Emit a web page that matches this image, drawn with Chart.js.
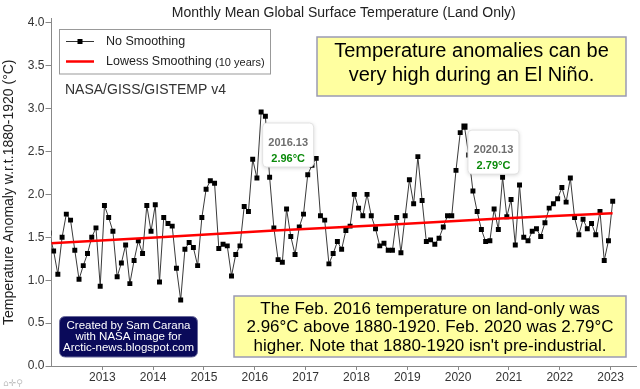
<!DOCTYPE html>
<html><head><meta charset="utf-8">
<script src="https://cdn.jsdelivr.net/npm/chart.js@4.4.1/dist/chart.umd.min.js"></script>
<style>html,body{margin:0;padding:0;background:#fff;}canvas{display:block;}</style>
</head><body>
<canvas id="c" width="640" height="389"></canvas>
<script>
// ---------- data ----------
const chartTitle = 'Monthly Mean Global Surface Temperature (Land Only)';
const yAxisTitle = 'Temperature Anomaly w.r.t.1880-1920 (°C)';
const firstYear = 2011, firstMonth = 12; // first monthly value: Dec 2011
const anomalies = [
  1.55,
  1.34,1.07,1.50,1.77,1.70,1.35,1.01,1.17,1.31,1.50,1.61,0.93,
  1.87,1.73,1.57,1.04,1.20,1.41,0.96,1.23,1.46,1.31,1.87,1.57,
  1.88,0.98,1.73,1.66,1.63,1.14,0.77,1.36,1.44,1.38,1.17,1.73,
  2.06,2.16,2.13,1.37,1.42,1.40,1.05,1.30,1.40,1.86,1.80,2.41,
  2.19,2.96,2.91,2.20,1.61,1.24,1.21,1.83,1.51,1.30,1.62,1.77,
  2.23,2.34,2.42,1.75,1.70,1.19,1.31,1.45,1.36,1.58,1.63,2.00,
  1.84,1.75,2.00,1.75,1.60,1.40,1.43,1.35,1.35,1.73,1.32,1.75,
  2.17,1.89,2.44,1.93,1.45,1.47,1.42,1.49,1.62,1.75,1.75,2.28,
  2.72,2.79,2.46,2.04,1.80,1.59,1.45,1.46,1.83,1.59,2.20,1.74,
  1.94,1.41,2.11,1.50,1.46,1.57,1.60,1.51,1.67,1.84,1.89,1.95,
  2.08,1.91,2.19,1.73,1.53,1.71,1.60,1.66,1.53,1.80,1.23,1.46,
  1.92
];
const lowessYears  = [2011.96, 2014.13, 2016.30, 2018.63, 2020.83, 2023.04];
const lowessValues = [1.43, 1.50, 1.575, 1.645, 1.72, 1.78];
const yearTicks = [2013,2014,2015,2016,2017,2018,2019,2020,2021,2022,2023];
const yTicks = [0,0.5,1,1.5,2,2.5,3,3.5,4];
const highlightIdx = [50, 98];
const legendLabels = ['No Smoothing', 'Lowess Smoothing'];
const legendNote = '(10 years)';
const sourceLabel = 'NASA/GISS/GISTEMP v4';
const noteTop = ['Temperature anomalies can be', 'very high during an El Niño.'];
const noteBottom = ['The Feb. 2016 temperature on land-only was',
                    '2.96°C above 1880-1920. Feb. 2020 was 2.79°C',
                    "higher. Note that 1880-1920 isn't pre-industrial."];
const credit = ['Created by Sam Carana', 'with NASA image for', 'Arctic-news.blogspot.com'];

// ---------- helpers ----------
function monthTime(i){
  const m = (firstMonth - 1) + i;
  const y = firstYear + Math.floor(m / 12);
  const mo = m % 12 + 1;
  return y + (mo - 0.5) / 12;
}
const series = anomalies.map((v,i)=>({x: monthTime(i), y: v}));
const lowess = lowessYears.map((t,i)=>({x: t, y: lowessValues[i]}));

const FF = "'Liberation Sans', Arial, sans-serif";
const tipOffsets = [{dx:1.5, dy:11}, {dx:3.5, dy:3.5}];

function rr(ctx,x,y,w,h,r){
  ctx.beginPath();
  ctx.moveTo(x+r,y);ctx.lineTo(x+w-r,y);ctx.quadraticCurveTo(x+w,y,x+w,y+r);
  ctx.lineTo(x+w,y+h-r);ctx.quadraticCurveTo(x+w,y+h,x+w-r,y+h);
  ctx.lineTo(x+r,y+h);ctx.quadraticCurveTo(x,y+h,x,y+h-r);
  ctx.lineTo(x,y+r);ctx.quadraticCurveTo(x,y,x+r,y);ctx.closePath();
}

const overlay = {
  id:'overlay',
  afterDraw(chart){
    const ctx = chart.ctx, ca = chart.chartArea;
    ctx.save();
    // title
    ctx.fillStyle = '#222'; ctx.font = '14px '+FF; ctx.textAlign='center'; ctx.textBaseline='middle';
    ctx.fillText(chartTitle, (ca.left+ca.right)/2, 13.5);

    // legend
    ctx.fillStyle='#fff'; ctx.strokeStyle='#999'; ctx.lineWidth=1;
    ctx.fillRect(59.5,29.5,211,44.5); ctx.strokeRect(59.5,29.5,211,44.5);
    ctx.strokeStyle='#333'; ctx.lineWidth=1;
    ctx.beginPath(); ctx.moveTo(66,41.5); ctx.lineTo(94,41.5); ctx.stroke();
    ctx.fillStyle='#000'; ctx.fillRect(77.5,39,5,5);
    ctx.strokeStyle='#ff0000'; ctx.lineWidth=2.5;
    ctx.beginPath(); ctx.moveTo(66,61.5); ctx.lineTo(94,61.5); ctx.stroke();
    ctx.fillStyle='#222'; ctx.textAlign='left'; ctx.font='12.5px '+FF;
    ctx.fillText(chart.data.datasets[1].label, 106, 42);
    ctx.fillText(chart.data.datasets[0].label, 106, 62);
    const w = ctx.measureText(chart.data.datasets[0].label+' ').width;
    ctx.font='11px '+FF; ctx.fillText(legendNote, 106+w, 62.5);

    // source label
    ctx.font='14px '+FF; ctx.fillStyle='#333';
    ctx.fillText(sourceLabel, 65, 90);

    // yellow boxes
    ctx.fillStyle='#ffffa0'; ctx.strokeStyle='#9a9ab4'; ctx.lineWidth=1.5;
    ctx.fillRect(317,37,309,59); ctx.strokeRect(317,37,309,59);
    ctx.fillRect(234,296,392,61); ctx.strokeRect(234,296,392,61);
    ctx.fillStyle='#000'; ctx.textAlign='center';
    ctx.font='20px '+FF;
    noteTop.forEach((s,i)=>ctx.fillText(s, 471.5, 51+i*24));
    ctx.font='17px '+FF;
    noteBottom.forEach((s,i)=>ctx.fillText(s, 430, 309.5+i*18.3));

    // credit box
    ctx.fillStyle='#0a0a5a'; ctx.strokeStyle='#6a6a9a'; ctx.lineWidth=1;
    rr(ctx,59.5,316.5,138,40.5,6); ctx.fill(); ctx.stroke();
    ctx.fillStyle='#fff'; ctx.font='11.5px '+FF;
    credit.forEach((s,i)=>ctx.fillText(s, 128.5, 326+i*10.8));

    // toolbar icons
    ctx.fillStyle='#c0c0c0'; ctx.font='9px DejaVu Sans'; ctx.textAlign='left';
    ctx.fillText('⌂✛⚲', 3, 384);

    // hover tooltips
    const meta = chart.getDatasetMeta(1);
    highlightIdx.forEach((idx,k)=>{
      const el = meta.data[idx];
      const bx = el.x + tipOffsets[k].dx, by = el.y + tipOffsets[k].dy;
      ctx.save();
      ctx.shadowColor='rgba(0,0,0,0.18)'; ctx.shadowBlur=4; ctx.shadowOffsetY=1;
      ctx.fillStyle='#fff'; rr(ctx,bx,by,51,44,4); ctx.fill();
      ctx.restore();
      ctx.strokeStyle='#e2e2e2'; ctx.lineWidth=1; rr(ctx,bx,by,51,44,4); ctx.stroke();
      ctx.textAlign='center'; ctx.textBaseline='middle';
      ctx.font='bold 11px '+FF; ctx.fillStyle='#6e6e6e';
      ctx.fillText(monthTime(idx).toFixed(2), bx+25.5, by+20);
      ctx.fillStyle='#0a8a0a';
      ctx.fillText(anomalies[idx].toFixed(2)+'°C', bx+25.5, by+36);
    });
    ctx.restore();
  }
};

new Chart(document.getElementById('c').getContext('2d'), {
  type:'line',
  data:{datasets:[
    {label: legendLabels[1], data: lowess, borderColor:'#ff0000', borderWidth:2.5,
     pointRadius:0, tension:0, clip:{left:0,right:5,top:5,bottom:5}},
    {label: legendLabels[0], data: series, borderColor:'#3a3a3a', borderWidth:1,
     pointStyle:'rect', pointRadius:(c)=>highlightIdx.includes(c.dataIndex)&&c.dataIndex===98?4.3:3.5,
     pointBackgroundColor:'#000', pointBorderColor:'#000', pointBorderWidth:0, tension:0,
     clip:{left:0,right:5,top:5,bottom:5}}
  ]},
  options:{
    responsive:false, animation:false, devicePixelRatio:1,
    layout:{padding:{left:0,right:4,top:18.5,bottom:0}},
    plugins:{legend:{display:false}, tooltip:{enabled:false}, title:{display:false}},
    scales:{
      x:{type:'linear', min:2012, max:2023.5,
        afterBuildTicks:(s)=>{s.ticks = yearTicks.map(v=>({value:v}));},
        afterFit:(s)=>{s.height=23; s.paddingLeft=0; s.paddingRight=0;},
        grid:{drawOnChartArea:false, drawTicks:true, tickLength:4, color:'#888', tickColor:'#888'},
        border:{color:'#888', width:1},
        ticks:{font:{family:FF,size:12}, color:'#333', padding:0, maxRotation:0, autoSkip:false,
               callback:(v)=>String(v)}
      },
      y:{min:0, max:4.05,
        afterBuildTicks:(s)=>{s.ticks = yTicks.map(v=>({value:v}));},
        afterFit:(s)=>{s.width=51.5; s.paddingTop=0; s.paddingBottom=0;},
        grid:{drawOnChartArea:false, drawTicks:true, tickLength:6, color:'#888', tickColor:'#888'},
        border:{color:'#888', width:1},
        ticks:{font:{family:FF,size:12}, color:'#333', padding:1, callback:(v)=>Number(v).toFixed(1)},
        title:{display:true, text:yAxisTitle, font:{family:FF,size:14}, color:'#222', padding:{top:1,bottom:0}}
      }
    }
  },
  plugins:[overlay]
});
</script>
</body></html>
